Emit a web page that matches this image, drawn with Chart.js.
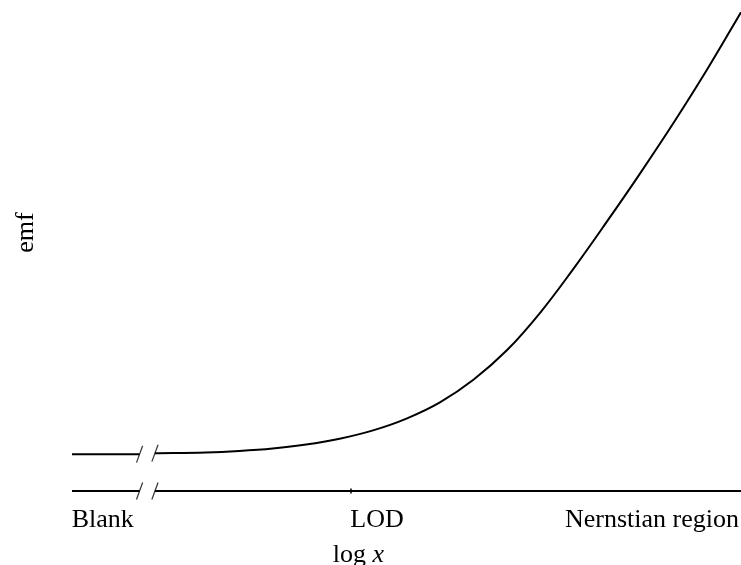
<!DOCTYPE html>
<html>
<head>
<meta charset="utf-8">
<script src="https://cdn.jsdelivr.net/npm/chart.js@4/dist/chart.umd.min.js"></script>
<style>
  html, body { margin: 0; padding: 0; background: #fff; }
  #wrap { position: relative; width: 741px; height: 565px; }
</style>
</head>
<body>
<div id="wrap"><canvas id="emfChart"></canvas></div>
<script>
// response curve (log x vs emf), arbitrary units
const curveX = [1.24, 2, 2.5, 3, 3.5, 4, 4.5, 5, 5.5, 6, 6.5, 7, 7.5, 8, 8.5, 9, 9.5, 10];
const curveY = [0.77, 0.785, 0.815, 0.865, 0.945, 1.065, 1.235, 1.475, 1.805, 2.265, 2.865, 3.635, 4.535, 5.495, 6.485, 7.515, 8.6, 9.75];

// blank level before the axis break
const blankX = [0, 1.01];
const blankY = [0.75, 0.75];

// x axis drawn in two pieces around the break
const axisLeftX = [0, 1.01];
const axisRightX = [1.24, 10];
const axisY = 0;

// break marks: where they sit on each line
const breakX = [1.01, 1.24, 1.01, 1.24];
const breakY = [0.75, 0.77, 0, 0];

// detection limit marker on the axis
const lodX = 4.17;

const tickValues = [0.46, 4.56, 8.67];
const tickLabels = ['Blank', 'LOD', 'Nernstian region'];

const FONT = 'Liberation Serif';

const toPoints = (xs, ys) => xs.map((x, i) => ({ x, y: Array.isArray(ys) ? ys[i] : ys }));

const titlePlugin = {
  id: 'axisTitles',
  afterDraw(chart) {
    const { ctx } = chart;
    ctx.save();
    ctx.fillStyle = '#000';
    ctx.textBaseline = 'alphabetic';

    // "log x" with an italic x
    const upright = `26px "${FONT}"`;
    const italic = `italic 26px "${FONT}"`;
    ctx.font = upright;
    const w1 = ctx.measureText('log ').width;
    ctx.font = italic;
    const w2 = ctx.measureText('x').width;
    const start = 358.5 - (w1 + w2) / 2;
    ctx.font = upright;
    ctx.textAlign = 'left';
    ctx.fillText('log ', start, 562);
    ctx.font = italic;
    ctx.fillText('x', start + w1, 562);

    // "emf" rotated
    ctx.translate(33, 232.5);
    ctx.rotate(-Math.PI / 2);
    ctx.font = upright;
    ctx.textAlign = 'center';
    ctx.fillText('emf', 0, 0);
    ctx.restore();
  },
};

new Chart(document.getElementById('emfChart'), {
  type: 'line',
  data: {
    datasets: [
      {
        data: toPoints(curveX, curveY),
        borderColor: '#000',
        borderWidth: 2,
        pointRadius: 0,
        tension: 0.4,
      },
      {
        data: toPoints(blankX, blankY),
        borderColor: '#000',
        borderWidth: 2,
        pointRadius: 0,
      },
      {
        data: toPoints(axisLeftX, axisY),
        borderColor: '#000',
        borderWidth: 1.8,
        pointRadius: 0,
        clip: false,
      },
      {
        data: toPoints(axisRightX, axisY),
        borderColor: '#000',
        borderWidth: 1.8,
        pointRadius: 0,
        clip: false,
      },
      {
        data: toPoints(breakX, breakY),
        showLine: false,
        pointStyle: 'line',
        pointRadius: 9,
        rotation: -70,
        pointBorderColor: '#333',
        pointBorderWidth: 1.2,
        clip: false,
      },
      {
        data: [{ x: lodX, y: axisY }],
        showLine: false,
        pointStyle: 'line',
        pointRadius: 2.5,
        rotation: 90,
        pointBorderColor: '#000',
        pointBorderWidth: 1.5,
        clip: false,
      },
    ],
  },
  options: {
    responsive: true,
    maintainAspectRatio: false,
    animation: false,
    layout: { autoPadding: false, padding: { left: 72, right: 0, top: 0, bottom: 0 } },
    plugins: {
      legend: { display: false },
      tooltip: { enabled: false },
    },
    scales: {
      x: {
        type: 'linear',
        min: 0,
        max: 10,
        grid: { display: false, drawTicks: false },
        border: { display: false },
        afterBuildTicks: (scale) => {
          scale.ticks = tickValues.map((value) => ({ value }));
        },
        afterFit: (scale) => {
          scale.height = 74;
        },
        ticks: {
          autoSkip: false,
          maxRotation: 0,
          padding: 0,
          color: '#000',
          font: { family: FONT, size: 26, lineHeight: 2.28 },
          callback: (value, index) => tickLabels[index],
        },
      },
      y: {
        display: false,
        min: 0,
        max: 10,
      },
    },
  },
  plugins: [titlePlugin],
});
</script>
</body>
</html>
